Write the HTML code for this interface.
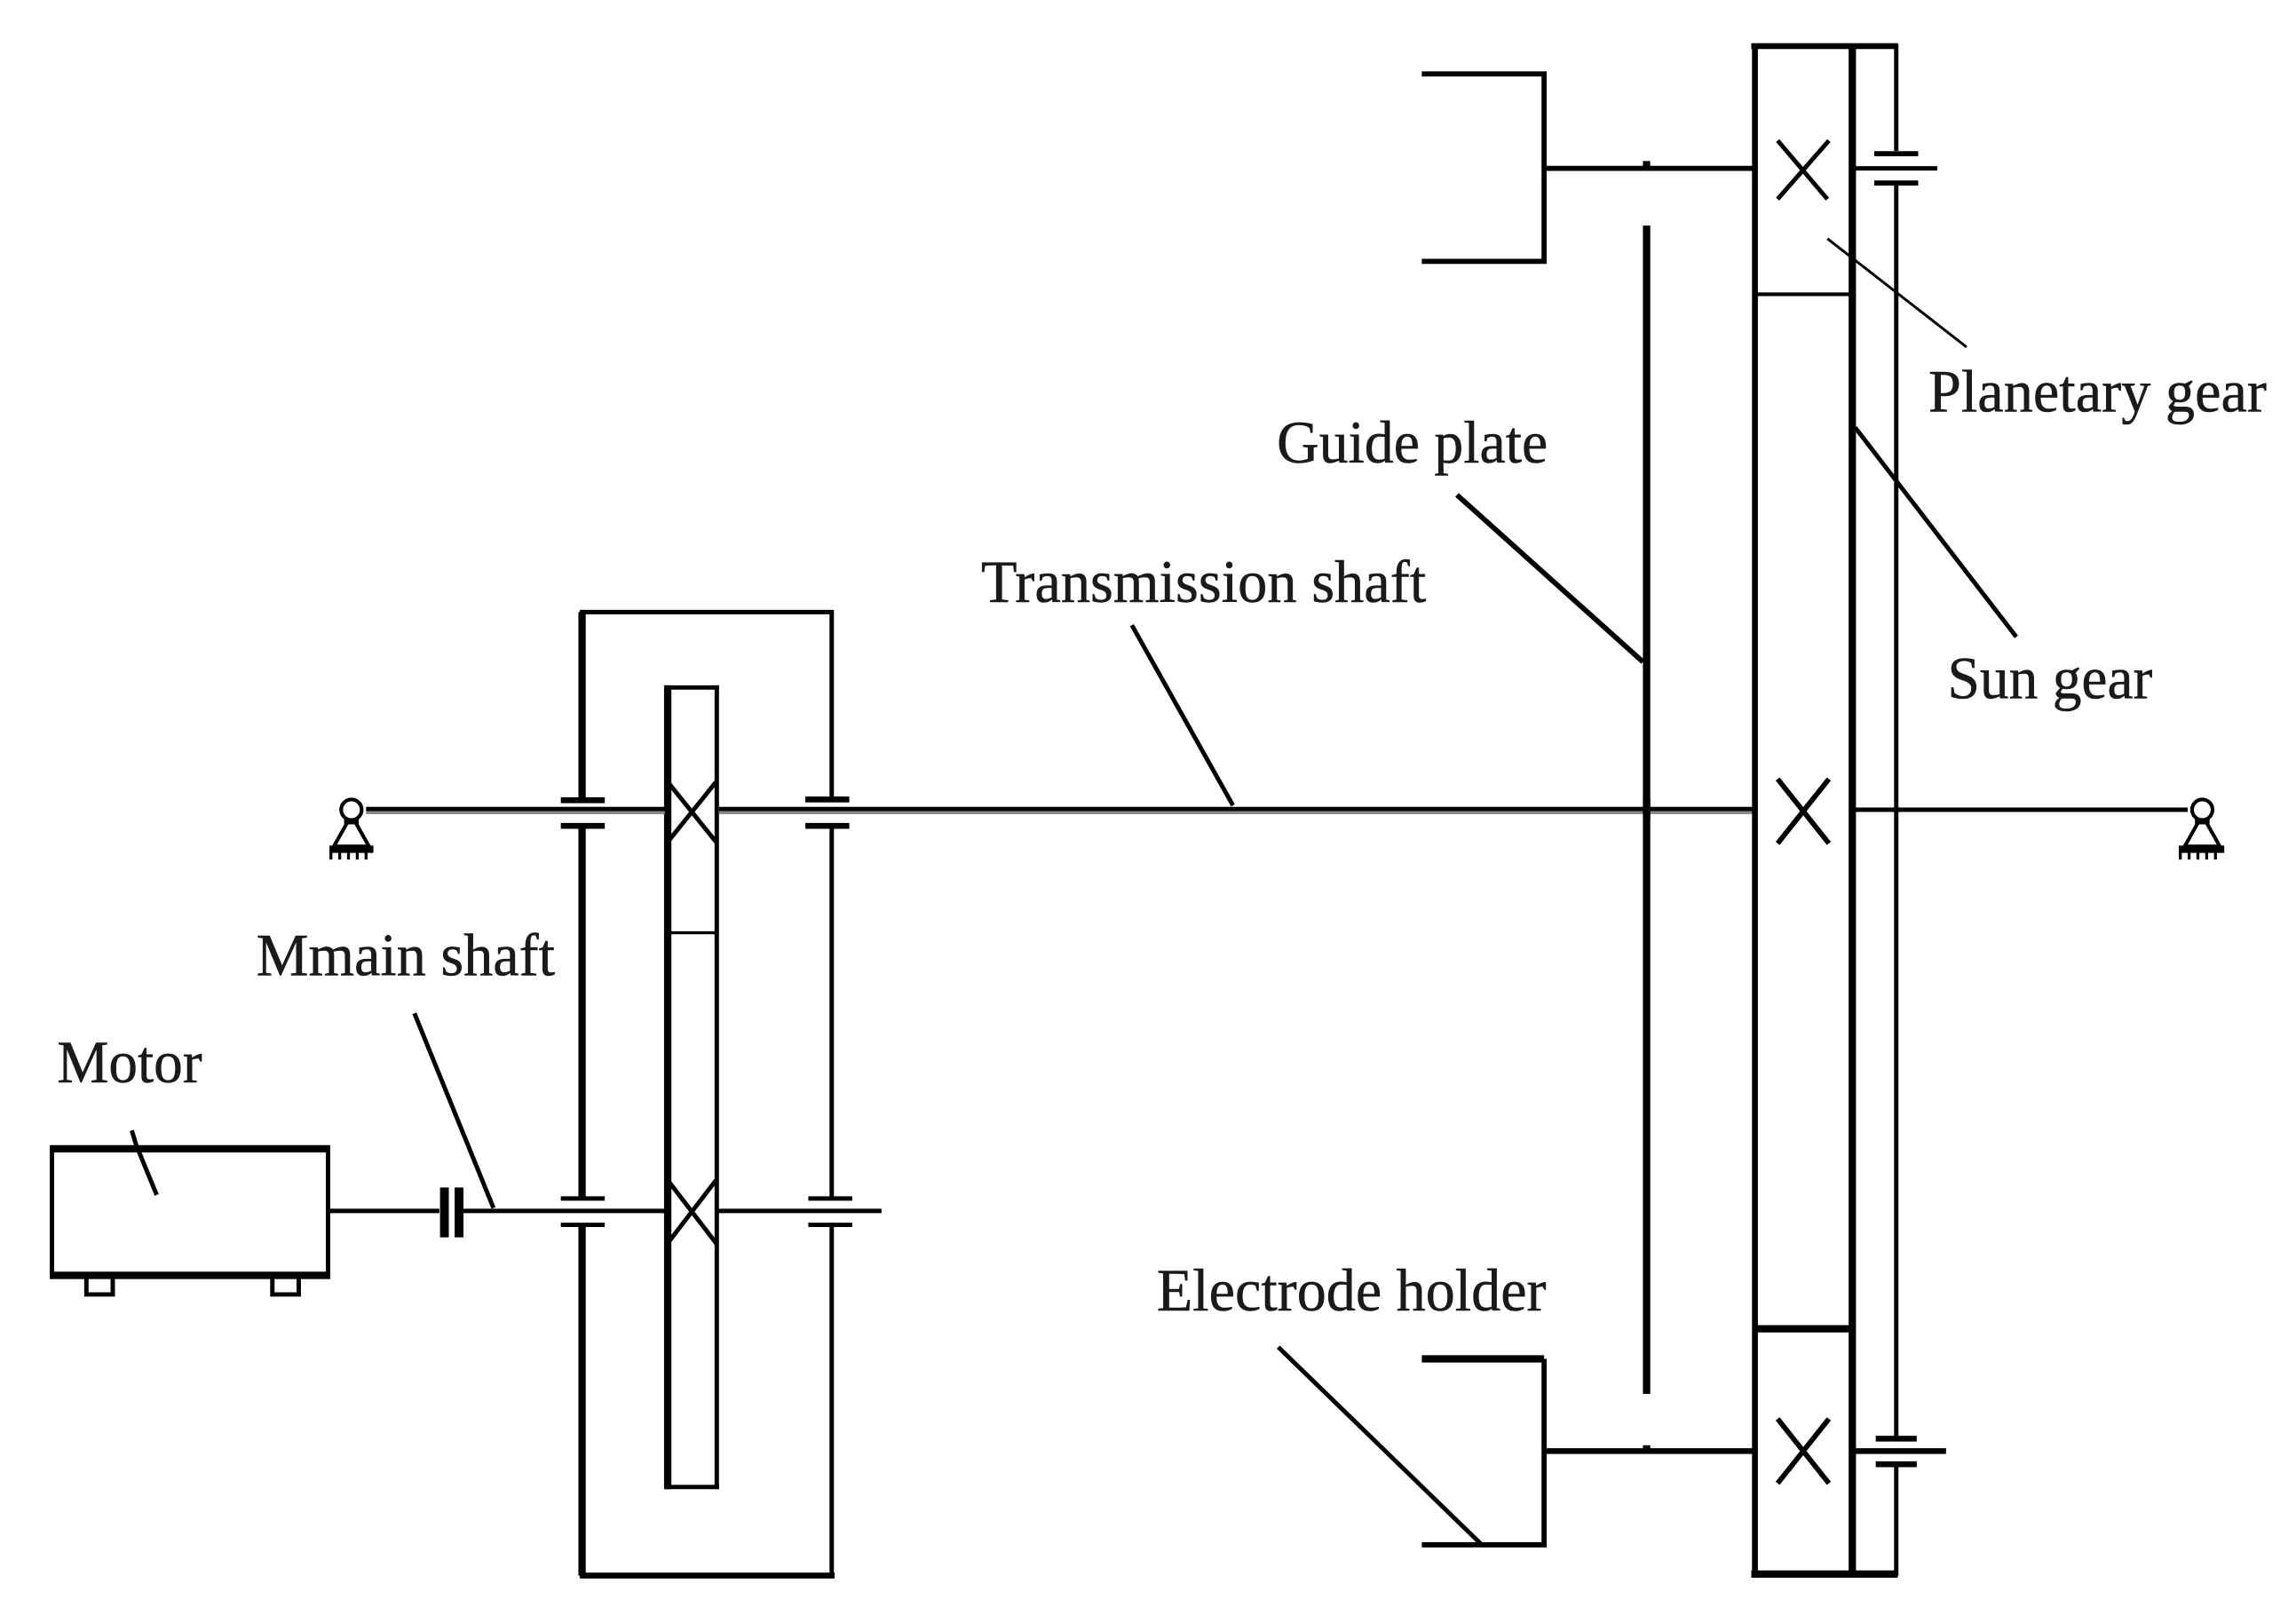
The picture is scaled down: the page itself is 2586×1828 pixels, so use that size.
<!DOCTYPE html>
<html>
<head>
<meta charset="utf-8">
<style>
html,body{margin:0;padding:0;background:#fff;width:2586px;height:1828px;overflow:hidden}
svg{display:block}
text{font-family:"Liberation Serif",serif;font-size:41px;fill:#1a1a1a;stroke:#1a1a1a;stroke-width:.3px}
</style>
</head>
<body>
<svg width="2586" height="1828" viewBox="0 0 1568 1108.400" xmlns="http://www.w3.org/2000/svg">
<rect width="1568" height="1108.400" fill="#fff"/>
<g fill="none" stroke="#000" stroke-linecap="butt" stroke-linejoin="miter">

<!-- Motor -->
<path d="M35.500 785 H224 V870 H35.500 Z" stroke-width="3"/>
<path d="M34 784.500 H225.500" stroke-width="5"/>
<path d="M34 871 H225.500" stroke-width="5"/>
<path d="M59 873 V884 H77 V873 M186 873 V884 H204 V873" stroke-width="3"/>
<path d="M90 772 L93 782 L107 816" stroke-width="3"/>

<!-- Main shaft and coupling -->
<path d="M225 827 H300" stroke-width="3"/>
<path d="M316 827 H455" stroke-width="3"/>
<path d="M490 827 H602" stroke-width="3"/>
<path d="M303.500 811 V845 M313.500 811 V845" stroke-width="6"/>
<path d="M283 692 L337 825" stroke-width="3"/>

<!-- Frame -->
<path d="M397.500 545 V418 H568 V545" stroke-width="3"/>
<path d="M397.500 418 V545" stroke-width="5"/>
<path d="M397.500 565 V818" stroke-width="5"/>
<path d="M397.500 836 V1076" stroke-width="5"/>
<path d="M568 565 V818 M568 836 V1076" stroke-width="3"/>
<path d="M396 1076 H570" stroke-width="4"/>

<!-- Bearings on frame -->
<path d="M383 546.500 H413 M383 564 H413 M550 546 H580 M550 564 H580" stroke-width="4"/>
<path d="M383 818.500 H413 M383 836.500 H413 M552 818.500 H582 M552 836.500 H582" stroke-width="3"/>

<!-- Intermediate gear -->
<path d="M456 468 V1017" stroke-width="5"/>
<path d="M489.500 468 V1017" stroke-width="3"/>
<path d="M454 469.500 H491 M454 1015.500 H491" stroke-width="3"/>
<path d="M458 637 H489" stroke-width="2"/>
<path d="M456 534 L489 575 M489 534 L456 575" stroke-width="3"/>
<path d="M456 806 L489 849 M489 806 L456 849" stroke-width="3"/>

<!-- Transmission shaft -->
<path d="M250 555 H454 M491 555 H1197" stroke="#888" stroke-width="2"/>
<path d="M250 552.500 H454" stroke-width="3"/>
<path d="M491 552.500 H1197" stroke-width="3"/>
<path d="M1265 553 H1494" stroke-width="3"/>
<path d="M773 427 L842 550" stroke-width="3"/>

<!-- Left support -->
<circle cx="240" cy="553" r="7" stroke-width="2.500"/>
<path d="M235 561 H245" stroke-width="4"/>
<path d="M237 562 L228 578 H252 L243 562" stroke-width="2.500"/>
<path d="M225 580 H255" stroke-width="5"/>
<path d="M226 582 V587 M232 582 V587 M238 582 V587 M244 582 V587 M250 582 V587" stroke-width="2"/>
<!-- Right support -->
<circle cx="1504" cy="553" r="7" stroke-width="2.500"/>
<path d="M1499 561 H1509" stroke-width="4"/>
<path d="M1501 562 L1492 578 H1516 L1507 562" stroke-width="2.500"/>
<path d="M1488 580 H1519" stroke-width="5"/>
<path d="M1489 582 V587 M1495 582 V587 M1501 582 V587 M1507 582 V587 M1513 582 V587" stroke-width="2"/>

<!-- Planetary assembly -->
<path d="M1198.500 31 V1076" stroke-width="4"/>
<path d="M1265 31 V1076" stroke-width="5"/>
<path d="M1196 31.500 H1296" stroke-width="4"/>
<path d="M1196 1075 H1296" stroke-width="5"/>
<path d="M1200 201 H1263" stroke-width="2.500"/>
<path d="M1200 907.500 H1263" stroke-width="5"/>
<path d="M1295 30 V103 M1295 125 V982 M1295 1001 V1076" stroke-width="3"/>

<!-- Gear crosses -->
<path d="M1214 96 L1248 136 M1249 96 L1214 136" stroke-width="3"/>
<path d="M1214 532 L1249 576 M1249 532 L1214 576" stroke-width="3.500"/>
<path d="M1214 969 L1249 1013 M1249 969 L1214 1013" stroke-width="3.500"/>

<!-- Planet bearings -->
<path d="M1265 115 H1323" stroke-width="3"/>
<path d="M1280 105 H1310 M1280 125 H1310" stroke-width="3.500"/>
<path d="M1265 991 H1329" stroke-width="4"/>
<path d="M1281 982.500 H1309 M1281 1000 H1309" stroke-width="4"/>

<!-- Electrode holders -->
<path d="M971 50.500 H1054.500 V178.500 H971" stroke-width="3.500"/>
<path d="M1055 115 H1197" stroke-width="3.500"/>
<path d="M971 928 H1054.500" stroke-width="5"/>
<path d="M1054.500 928 V1055 H971" stroke-width="3.500"/>
<path d="M1055 991 H1197" stroke-width="4"/>

<!-- Guide plate -->
<path d="M1124.500 154 V952" stroke-width="5"/>
<path d="M1124.500 110 V116 M1124.500 545 V560 M1124.500 987 V992" stroke-width="5"/>

<!-- Leaders -->
<path d="M995 338 L1122 452" stroke-width="3.500"/>
<path d="M1248 163 L1343 237" stroke-width="1.800"/>
<path d="M1267 292 L1377 435" stroke-width="3"/>
<path d="M873 920 L1012 1055" stroke-width="3"/>
</g>

<!-- Labels -->
<text x="39" y="739" textLength="99" lengthAdjust="spacingAndGlyphs">Motor</text>
<text x="175" y="666" textLength="204" lengthAdjust="spacingAndGlyphs">Mmain shaft</text>
<text x="670" y="411" textLength="304" lengthAdjust="spacingAndGlyphs">Transmission shaft</text>
<text x="872" y="316" textLength="185" lengthAdjust="spacingAndGlyphs">Guide plate</text>
<text x="1317" y="281" textLength="231" lengthAdjust="spacingAndGlyphs">Planetary gear</text>
<text x="1330" y="477" textLength="140" lengthAdjust="spacingAndGlyphs">Sun gear</text>
<text x="790" y="895" textLength="266" lengthAdjust="spacingAndGlyphs">Electrode holder</text>
</svg>
</body>
</html>
